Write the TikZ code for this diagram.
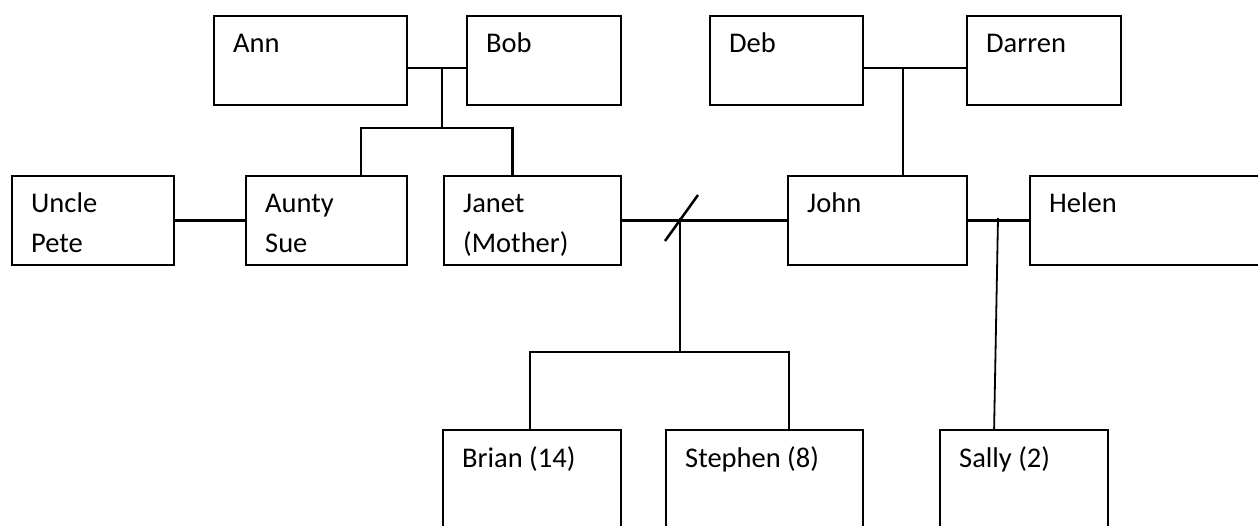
\documentclass[tikz,border=0pt]{standalone}
\usepackage{fontspec}
\setmainfont{Carlito}
\usetikzlibrary{positioning}

\tikzset{
  person/.style={draw, line width=2.2pt, inner sep=0pt, anchor=north west, minimum width=#1, minimum height=89pt},
  who/.style={anchor=base west, align=left, inner sep=0pt, xshift=20pt, yshift=-38pt, font=\fontsize{28.5}{40}\selectfont},
  whotwo/.style={who, yshift=-40pt},
  link/.style={line width=2.5pt}
}

\begin{document}
\begin{tikzpicture}[x=1pt, y=-1pt]
\clip (0,0) rectangle (1258,526);
\node[person=193pt, label={[who]north west:Ann}] (ann) at (213,15) {};
\node[person=154pt, label={[who]north west:Bob}] (bob) at (466,15) {};
\node[person=153pt, label={[who]north west:Deb}] (deb) at (709,15) {};
\node[person=154pt, label={[who]north west:Darren}] (darren) at (966,15) {};
\node[person=162pt, label={[whotwo]north west:{Uncle\\Pete}}] (pete) at (11,175) {};
\node[person=161pt, label={[whotwo]north west:{Aunty\\Sue}}] (sue) at (245,175) {};
\node[person=177pt, label={[whotwo]north west:{Janet\\(Mother)}}] (janet) at (443,175) {};
\node[person=179pt, label={[who]north west:John}] (john) at (787,175) {};
\node[person=260pt, label={[who]north west:Helen}] (helen) at (1029,175) {};
\node[person=178pt, minimum height=130pt, label={[who]north west:Brian (14)}] (brian) at (442,429) {};
\node[person=197pt, minimum height=130pt, label={[who]north west:Stephen (8)}] (stephen) at (665,429) {};
\node[person=168pt, minimum height=130pt, label={[who]north west:Sally (2)}] (sally) at (939,429) {};
\coordinate (annbob) at (442,67);
\coordinate (annbobkids) at (442,128);
\coordinate (debdarren) at (903,67);
\coordinate (janetjohn) at (680,218);
\coordinate (janetjohnkids) at (680,352);
\coordinate (johnhelen) at (998,218);
\draw[link] ([yshift=-7.5pt]ann.east) -- ([yshift=-7.5pt]bob.west);
\draw[link] (annbob) -- (annbobkids);
\draw[link] ([xshift=34.5pt]sue.north) |- (annbobkids) -| ([xshift=-20pt]janet.north);
\draw[link] ([yshift=-7.5pt]deb.east) -- ([yshift=-7.5pt]darren.west);
\draw[link] (debdarren) -- (debdarren |- john.north);
\draw[link] (pete) -- (sue);
\draw[link] (janet) -- (john);
\draw[link] ([shift={(-15,23)}]janetjohn) -- ([shift={(18,-23)}]janetjohn);
\draw[link] (janetjohn) -- (janetjohnkids);
\draw[link] ([xshift=-2pt]brian.north) |- (janetjohnkids) -| ([xshift=24.5pt]stephen.north);
\draw[link] (john) -- (helen.west |- john.east);
\draw[line width=1.8pt] (johnhelen) -- ([xshift=-30pt]sally.north);
\end{tikzpicture}
\end{document}
